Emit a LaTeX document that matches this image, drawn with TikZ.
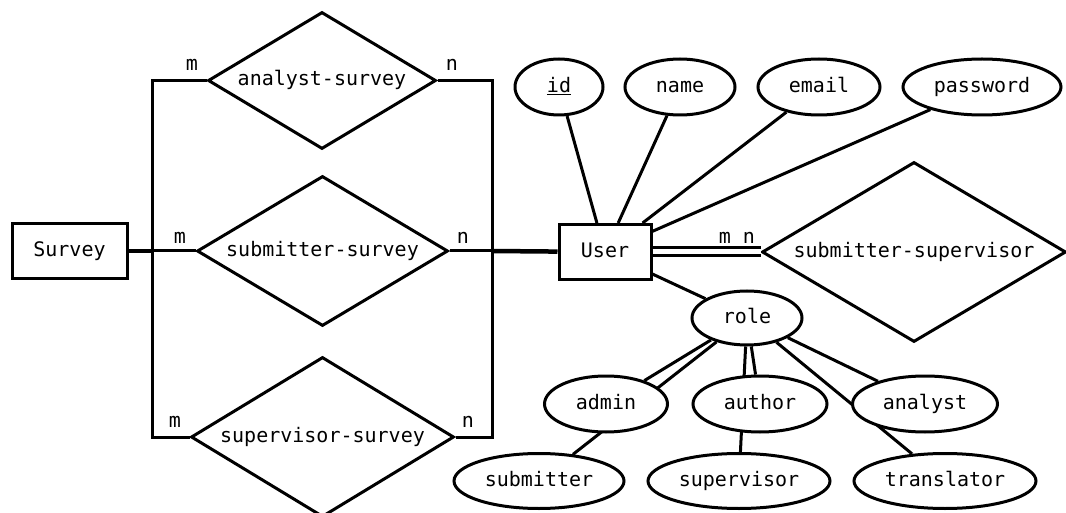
\documentclass[tikz,border=0pt]{standalone}
\usepackage{fontspec}
\setmonofont{DejaVu Sans Mono}
\usetikzlibrary{shapes.geometric,backgrounds}

\tikzset{
  entity/.style={draw, rectangle, fill=white, inner sep=0pt, minimum height=55, text height=15, text depth=4},
  relation/.style={draw, diamond, fill=white, inner sep=0pt, shape aspect=2, text height=15, text depth=4},
  attrib/.style={draw, ellipse, fill=white, inner sep=1pt, minimum height=56, text height=15, text depth=4},
  card/.style={inner sep=0pt},
  conn/.style={line width=3pt},
  trunk/.style={line width=4.5pt},
}

\begin{document}
\begin{tikzpicture}[x=1pt, y=-1pt, line width=3pt, font=\fontsize{20}{24}\selectfont\ttfamily]
  \useasboundingbox (0,0) rectangle (1066,513);

  \node[entity, minimum width=115] (survey) at (69.5,251) {Survey};
  \node[entity, minimum width=92] (user) at (605,252) {User};

  \node[relation, minimum width=228, minimum height=137] (as) at (322,80.5) {analyst-survey};
  \node[relation, minimum width=251, minimum height=150] (ss) at (322.5,251) {submitter-survey};
  \node[relation, minimum width=263, minimum height=160] (sv) at (322.5,437) {supervisor-survey};
  \node[relation, minimum width=304, minimum height=180] (ssup) at (914,252) {submitter-supervisor};

  \node[attrib, minimum width=88] (id) at (559,87) {\underline{id}};
  \node[attrib, minimum width=110] (name) at (680,87) {name};
  \node[attrib, minimum width=122] (email) at (819,87) {email};
  \node[attrib, minimum width=158] (password) at (982,87) {password};

  \node[attrib, minimum width=110, minimum height=54] (role) at (747,318) {role};
  \node[attrib, minimum width=123] (admin) at (606,404) {admin};
  \node[attrib, minimum width=134] (author) at (760,404) {author};
  \node[attrib, minimum width=145] (analyst) at (925,404) {analyst};
  \node[attrib, minimum width=170, minimum height=55] (submitter) at (539,481) {submitter};
  \node[attrib, minimum width=182, minimum height=55] (supervisor) at (739,481) {supervisor};
  \node[attrib, minimum width=182, minimum height=55] (translator) at (945,481) {translator};

  \node[card] (asm) at (192,65) {m};
  \node[card] (asn) at (452,65) {n};
  \node[card] (ssm) at (180,238) {m};
  \node[card] (ssn) at (463,238) {n};
  \node[card] (svm) at (175,422) {m};
  \node[card] (svn) at (468,422) {n};
  \node[card] (upm) at (725,238) {m};
  \node[card] (upn) at (749,238) {n};

  \coordinate (lj) at (152,251);
  \coordinate (rj) at (492,251);

  \draw (as.west) -| (lj);
  \draw (sv.west) -| (lj);
  \draw (ss.west) -- (lj);
  \draw[trunk] (survey) -- (lj);
  \draw (as.east) -| (rj);
  \draw (sv.east) -| (rj);
  \draw (ss.east) -- (rj);
  \draw[trunk] (rj) -- (user);

  \draw (id) -- (user);
  \draw (name) -- (user);
  \draw (email) -- (user);
  \draw (password) -- (user);
  \draw (user) -- (role);
  \draw[double, double distance=5pt] (user) -- (ssup);

  \begin{scope}[on background layer]
    \draw[conn] (role) -- (admin);
    \draw[conn] (role) -- (submitter);
    \draw[conn] (role) -- (author);
    \draw[conn] (role) -- (supervisor);
    \draw[conn] (role) -- (analyst);
    \draw[conn] (role) -- (translator);
  \end{scope}
\end{tikzpicture}
\end{document}
